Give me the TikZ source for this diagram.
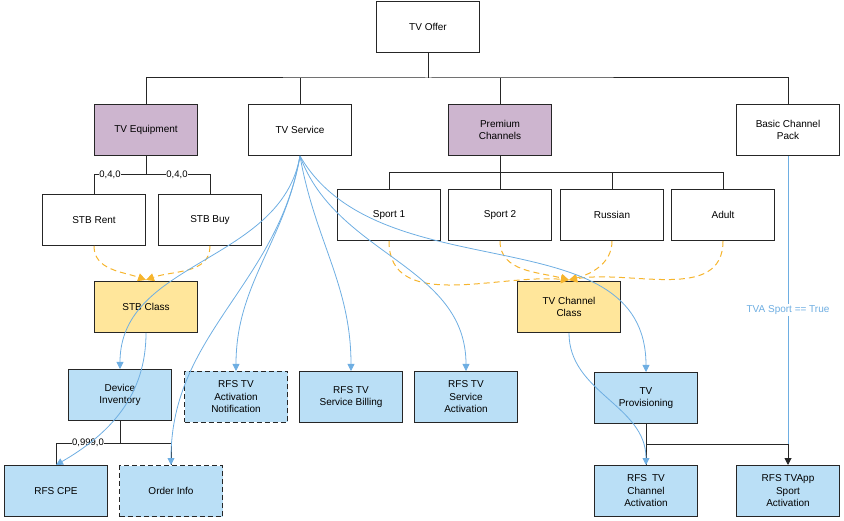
\documentclass[tikz,border=0pt]{standalone}
\usepackage{fontspec}
\setmainfont{Liberation Sans}
\usetikzlibrary{arrows.meta}
\definecolor{purp}{HTML}{CDB5CF}
\definecolor{yel}{HTML}{FFE69B}
\definecolor{lblue}{HTML}{BADFF6}
\definecolor{bline}{HTML}{6EAEE2}
\definecolor{orng}{HTML}{F6B52E}
\begin{document}
\begin{tikzpicture}[x=1pt,y=-1pt,
  box/.style={draw=black!85,line width=1pt,minimum width=103pt,minimum height=51pt,align=center,font=\fontsize{10}{12.5}\selectfont,inner sep=1pt},
  pbox/.style={box,fill=purp},
  ybox/.style={box,fill=yel},
  bbox/.style={box,fill=lblue},
  dbox/.style={bbox,dashed,dash pattern=on 5pt off 3pt},
  tree/.style={draw=black!85,line width=1pt},
  bl/.style={draw=bline,line width=0.8pt,-{Triangle[width=7pt,length=7pt]}},
  og/.style={draw=orng,line width=1pt,dash pattern=on 6pt off 4pt,-{Triangle[width=8pt,length=8pt]}},
  lab/.style={font=\fontsize{9.5}{11}\selectfont,fill=white,inner sep=0.5pt}]
\useasboundingbox (0,0) rectangle (844,521);
\node[box] (off) at (428,27) {TV Offer};
\node[pbox] (eq) at (146,130) {TV Equipment};
\node[box] (ts) at (300,130) {TV Service};
\node[pbox] (pc) at (500,130) {Premium\\Channels};
\node[box] (bc) at (788,130) {Basic Channel\\Pack};
\node[box] (rent) at (94,220) {STB Rent};
\node[box] (buy) at (210,220) {STB Buy};
\node[box] (s1) at (389,215) {Sport 1};
\node[box] (s2) at (500,215) {Sport 2};
\node[box] (ru) at (612,215) {Russian};
\node[box] (ad) at (723,215) {Adult};
\node[ybox] (stb) at (146,307) {STB Class};
\node[ybox] (tcc) at (569,307) {TV Channel\\Class};
\node[bbox] (di) at (120,395) {Device\\Inventory};
\node[dbox] (an) at (236,397) {RFS TV\\Activation\\Notification};
\node[bbox] (sb) at (351,397) {RFS TV\\Service Billing};
\node[bbox] (sa) at (466,397) {RFS TV\\Service\\Activation};
\node[bbox] (tp) at (646,398) {TV\\Provisioning};
\node[bbox] (cpe) at (56,491) {RFS CPE};
\node[dbox] (oi) at (171,491) {Order Info};
\node[bbox] (ca) at (646,491) {RFS\enspace TV\\Channel\\Activation};
\node[bbox] (sp) at (788,491) {RFS TVApp\\Sport\\Activation};
% tree
\draw[tree] (off.south) -- (428,78);
\draw[tree] (eq.north) |- (428,78) -| (bc.north);
\draw[tree] (ts.north) -- (300,78);
\draw[tree] (pc.north) -- (500,78);
\draw[tree] (eq.south) -- (146,175);
\draw[tree] (rent.north) |- (210,175) -- (buy.north);
\node[lab] at (110,175) {0,4,0};
\node[lab] at (177,175) {0,4,0};
\draw[tree] (pc.south) -- (500,173);
\draw[tree] (s1.north) |- (723,173) -- (ad.north);
\draw[tree] (s2.north) -- (500,173);
\draw[tree] (ru.north) -- (612,173);
\draw[tree] (di.south) -- (120,443);
\draw[tree] (cpe.north) |- (171,443) -- (oi.north);
\node[lab] at (88,443) {0,999,0};
\coordinate (j) at (788,444);
\draw[tree] (tp.south) -- (ca.north);
\draw[tree] (646,444) -- (j);
\draw[tree,-{Triangle[width=7pt,length=7pt]}] (j) -- (sp.north);
% orange
\draw[og] (rent.south) to[out=-90,in=160] (146,280);
\draw[og] (buy.south) to[out=-90,in=20] (146,280);
\foreach \n/\o/\i in {s1/-90/175,s2/-90/165,ru/-90/15,ad/-90/10}
  \draw[og] (\n.south) to[out=\o,in=\i] (569,280);
% blue
\draw[bl] (ts.south) to[out=-100,in=90] (di.north);
\draw[bl] (ts.south) to[out=-100,in=90] (an.north);
\draw[bl] (ts.south) to[out=-100,in=90] (oi.north);
\draw[bl] (ts.south) to[out=-80,in=90] (sb.north);
\draw[bl] (ts.south) to[out=-70,in=90] (sa.north);
\draw[bl] (ts.south) to[out=-60,in=90] (tp.north);
\draw[bl] (stb.south) to[out=-90,in=30] (cpe.north);
\draw[bl] (tcc.south) to[out=-90,in=90] (ca.north);
\draw[draw=bline,line width=0.8pt] (bc.south) -- (j);
\node[font=\fontsize{10}{12}\selectfont,text=bline,fill=white,inner sep=1pt] at (788,310) {TVA Sport == True};
\end{tikzpicture}
\end{document}
